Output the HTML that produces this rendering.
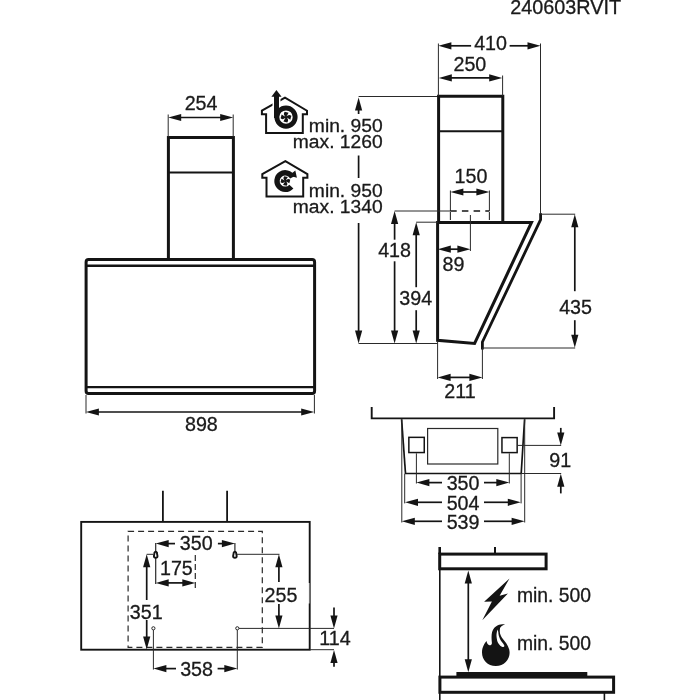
<!DOCTYPE html>
<html><head><meta charset="utf-8"><title>240603RVIT</title>
<style>
html,body{margin:0;padding:0;background:#fff;}
body{width:700px;height:700px;overflow:hidden;}
svg{display:block;will-change:transform;}
text{font-family:"Liberation Sans",sans-serif;fill:#1a1a1a;stroke:#1a1a1a;stroke-width:0.3px;}
</style></head><body>
<svg width="700" height="700" viewBox="0 0 700 700">
<rect x="0" y="0" width="700" height="700" fill="#fff"/>
<text x="510.3" y="13.9" text-anchor="start" font-size="19.8" >240603RVIT</text>
<path d="M168.4,260 V137.6 H233.4 V260" fill="none" stroke="#141414" stroke-width="3.0"/>
<line x1="168.0" y1="172.5" x2="233.6" y2="172.5" stroke="#141414" stroke-width="2.0" />
<rect x="86.1" y="259.5" width="228.5" height="134.1" rx="2.5" fill="none" stroke="#141414" stroke-width="3.0"/>
<line x1="86.0" y1="265.7" x2="314.8" y2="265.7" stroke="#141414" stroke-width="2.4" />
<line x1="86.0" y1="387.1" x2="314.8" y2="387.1" stroke="#141414" stroke-width="2.4" />
<line x1="168.2" y1="114.5" x2="168.2" y2="137.0" stroke="#2a2a2a" stroke-width="1.0" />
<line x1="233.2" y1="114.5" x2="233.2" y2="137.0" stroke="#2a2a2a" stroke-width="1.0" />
<line x1="180.2" y1="117.5" x2="221.2" y2="117.5" stroke="#141414" stroke-width="1.7" />
<polygon points="168.2,117.5 181.2,113.9 181.2,121.1" fill="#141414"/>
<polygon points="233.2,117.5 220.2,121.1 220.2,113.9" fill="#141414"/>
<text x="201.1" y="110.4" text-anchor="middle" font-size="19.7" >254</text>
<line x1="86.0" y1="395.0" x2="86.0" y2="413.5" stroke="#2a2a2a" stroke-width="1.0" />
<line x1="314.4" y1="395.0" x2="314.4" y2="413.5" stroke="#2a2a2a" stroke-width="1.0" />
<line x1="97.9" y1="412.0" x2="302.2" y2="412.0" stroke="#141414" stroke-width="1.7" />
<polygon points="85.9,412.0 98.9,408.4 98.9,415.6" fill="#141414"/>
<polygon points="314.2,412.0 301.2,415.6 301.2,408.4" fill="#141414"/>
<text x="201.4" y="431.2" text-anchor="middle" font-size="19.7" >898</text>
<text x="382.7" y="132.0" text-anchor="end" font-size="19.25" >min. 950</text>
<text x="382.7" y="148.0" text-anchor="end" font-size="19.25" >max. 1260</text>
<text x="382.7" y="196.6" text-anchor="end" font-size="19.25" >min. 950</text>
<text x="382.7" y="213.3" text-anchor="end" font-size="19.25" >max. 1340</text>
<path d="M285.0,97.7 L261.9,110.7 V114.3 H266.1 V133.1 H302.8 V114.3 H307.0 V110.7 Z" fill="none" stroke="#141414" stroke-width="2.0" stroke-linejoin="miter"/>
<path d="M276.5,92 V117" stroke="#fff" stroke-width="8" fill="none"/>
<circle cx="286.0" cy="117.1" r="9.15" fill="#fff" stroke="#141414" stroke-width="4.9"/>
<path d="M276.5,96 V118" stroke="#141414" stroke-width="5" fill="none"/>
<polygon points="276.4,90 271.4,96.8 281.6,96.8" fill="#141414"/>
<path d="M286.00,117.10 Q282.47,114.47 284.75,111.74 L288.60,112.76 Q287.63,114.55 286.00,117.10 Z" fill="#141414"/>
<path d="M286.00,117.10 Q288.63,113.57 291.36,115.85 L290.34,119.70 Q288.55,118.73 286.00,117.10 Z" fill="#141414"/>
<path d="M286.00,117.10 Q289.53,119.73 287.25,122.46 L283.40,121.44 Q284.37,119.65 286.00,117.10 Z" fill="#141414"/>
<path d="M286.00,117.10 Q283.37,120.63 280.64,118.35 L281.66,114.50 Q283.45,115.47 286.00,117.10 Z" fill="#141414"/>
<circle cx="286.00" cy="117.10" r="1.2" fill="#141414"/>
<path d="M285.4,161.1 L262.3,174.1 V177.7 H266.5 V196.5 H303.2 V177.7 H307.4 V174.1 Z" fill="none" stroke="#141414" stroke-width="2.0" stroke-linejoin="miter"/>
<path d="M292.53,177.18 A8.25,8.25 0 1 0 291.38,186.57" fill="none" stroke="#141414" stroke-width="5.4"/>
<polygon points="295.3,170.4 296.9,177.8 289.0,175.4" fill="#141414"/>
<path d="M285.40,181.00 Q282.20,178.61 284.26,176.13 L287.77,177.06 Q286.89,178.69 285.40,181.00 Z" fill="#141414"/>
<path d="M285.40,181.00 Q287.79,177.80 290.27,179.86 L289.34,183.37 Q287.71,182.49 285.40,181.00 Z" fill="#141414"/>
<path d="M285.40,181.00 Q288.60,183.39 286.54,185.87 L283.03,184.94 Q283.91,183.31 285.40,181.00 Z" fill="#141414"/>
<path d="M285.40,181.00 Q283.01,184.20 280.53,182.14 L281.46,178.63 Q283.09,179.51 285.40,181.00 Z" fill="#141414"/>
<circle cx="285.40" cy="181.00" r="1.2" fill="#141414"/>
<line x1="358.6" y1="96.5" x2="438.0" y2="96.5" stroke="#2a2a2a" stroke-width="1.0" />
<line x1="358.6" y1="109.5" x2="358.6" y2="114.0" stroke="#141414" stroke-width="1.7" />
<line x1="358.6" y1="155.5" x2="358.6" y2="178.0" stroke="#141414" stroke-width="1.7" />
<line x1="358.6" y1="223.0" x2="358.6" y2="331.5" stroke="#141414" stroke-width="1.7" />
<polygon points="358.6,97.5 362.2,110.5 355.0,110.5" fill="#141414"/>
<polygon points="358.6,343.5 355.0,330.5 362.2,330.5" fill="#141414"/>
<path d="M438.6,222.7 V96.3 H502.8 V222.7" fill="none" stroke="#141414" stroke-width="3.0"/>
<line x1="438.1" y1="131.2" x2="502.7" y2="131.2" stroke="#141414" stroke-width="2.0" />
<path d="M437.6,222.4 H531.5 L474.6,343.4 L437.6,340.3 Z" fill="none" stroke="#141414" stroke-width="3.0" stroke-linejoin="miter"/>
<path d="M540.6,213.3 V219.6 L482.4,342.0 V349.5" fill="none" stroke="#141414" stroke-width="2.8"/>
<line x1="438.4" y1="43.5" x2="438.4" y2="96.0" stroke="#2a2a2a" stroke-width="1.0" />
<line x1="540.5" y1="43.5" x2="540.5" y2="214.0" stroke="#2a2a2a" stroke-width="1.0" />
<line x1="450.4" y1="45.8" x2="471.1" y2="45.8" stroke="#141414" stroke-width="1.7" />
<line x1="509.6" y1="45.8" x2="528.5" y2="45.8" stroke="#141414" stroke-width="1.7" />
<polygon points="438.4,45.8 451.4,42.2 451.4,49.4" fill="#141414"/>
<polygon points="540.5,45.8 527.5,49.4 527.5,42.2" fill="#141414"/>
<text x="490.6" y="49.7" text-anchor="middle" font-size="19.7" >410</text>
<line x1="502.6" y1="75.5" x2="502.6" y2="96.0" stroke="#2a2a2a" stroke-width="1.0" />
<line x1="450.8" y1="77.9" x2="490.2" y2="77.9" stroke="#141414" stroke-width="1.7" />
<polygon points="438.8,77.9 451.8,74.3 451.8,81.5" fill="#141414"/>
<polygon points="502.2,77.9 489.2,81.5 489.2,74.3" fill="#141414"/>
<text x="469.9" y="71.3" text-anchor="middle" font-size="19.7" >250</text>
<line x1="450.4" y1="190.5" x2="450.4" y2="211.0" stroke="#2a2a2a" stroke-width="1.0" />
<line x1="489.4" y1="190.5" x2="489.4" y2="211.0" stroke="#2a2a2a" stroke-width="1.0" />
<line x1="450.4" y1="212.0" x2="450.4" y2="221.0" stroke="#2a2a2a" stroke-width="1.1" stroke-dasharray="8,2"/>
<line x1="489.4" y1="212.0" x2="489.4" y2="221.0" stroke="#2a2a2a" stroke-width="1.1" stroke-dasharray="8,2"/>
<line x1="462.4" y1="192.0" x2="477.4" y2="192.0" stroke="#141414" stroke-width="1.7" />
<polygon points="450.4,192.0 463.4,188.4 463.4,195.6" fill="#141414"/>
<polygon points="489.4,192.0 476.4,195.6 476.4,188.4" fill="#141414"/>
<text x="471.0" y="182.5" text-anchor="middle" font-size="19.7" >150</text>
<line x1="394.6" y1="211.0" x2="450.0" y2="211.0" stroke="#2a2a2a" stroke-width="1.0" />
<line x1="450.2" y1="211.0" x2="489.4" y2="211.0" stroke="#141414" stroke-width="1.6" stroke-dasharray="6.5,5.2"/>
<line x1="394.6" y1="223.0" x2="394.6" y2="239.7" stroke="#141414" stroke-width="1.7" />
<line x1="394.6" y1="261.3" x2="394.6" y2="331.5" stroke="#141414" stroke-width="1.7" />
<polygon points="394.6,211.0 398.2,224.0 391.0,224.0" fill="#141414"/>
<polygon points="394.6,343.5 391.0,330.5 398.2,330.5" fill="#141414"/>
<text x="394.6" y="257.2" text-anchor="middle" font-size="19.7" >418</text>
<line x1="416.2" y1="222.2" x2="438.0" y2="222.2" stroke="#2a2a2a" stroke-width="1.0" />
<line x1="416.2" y1="234.2" x2="416.2" y2="287.2" stroke="#141414" stroke-width="1.7" />
<line x1="416.2" y1="310.2" x2="416.2" y2="331.5" stroke="#141414" stroke-width="1.7" />
<polygon points="416.2,222.2 419.8,235.2 412.6,235.2" fill="#141414"/>
<polygon points="416.2,343.5 412.6,330.5 419.8,330.5" fill="#141414"/>
<text x="415.7" y="305.0" text-anchor="middle" font-size="19.7" >394</text>
<line x1="358.6" y1="343.5" x2="437.5" y2="343.5" stroke="#2a2a2a" stroke-width="1.0" />
<line x1="470.4" y1="215.0" x2="470.4" y2="251.0" stroke="#2a2a2a" stroke-width="1.0" />
<line x1="449.8" y1="249.2" x2="458.4" y2="249.2" stroke="#141414" stroke-width="1.7" />
<polygon points="437.8,249.2 450.8,245.6 450.8,252.8" fill="#141414"/>
<polygon points="470.4,249.2 457.4,252.8 457.4,245.6" fill="#141414"/>
<text x="453.5" y="271.4" text-anchor="middle" font-size="19.7" >89</text>
<line x1="540.6" y1="214.2" x2="575.2" y2="214.2" stroke="#2a2a2a" stroke-width="1.0" />
<line x1="482.4" y1="348.0" x2="575.2" y2="348.0" stroke="#2a2a2a" stroke-width="1.0" />
<line x1="574.8" y1="226.2" x2="574.8" y2="291.2" stroke="#141414" stroke-width="1.7" />
<line x1="574.8" y1="320.2" x2="574.8" y2="335.8" stroke="#141414" stroke-width="1.7" />
<polygon points="574.8,214.2 578.4,227.2 571.2,227.2" fill="#141414"/>
<polygon points="574.8,347.8 571.2,334.8 578.4,334.8" fill="#141414"/>
<text x="575.6" y="313.8" text-anchor="middle" font-size="19.7" >435</text>
<line x1="437.6" y1="341.0" x2="437.6" y2="379.0" stroke="#2a2a2a" stroke-width="1.0" />
<line x1="482.4" y1="348.0" x2="482.4" y2="379.0" stroke="#2a2a2a" stroke-width="1.0" />
<line x1="449.6" y1="377.4" x2="470.4" y2="377.4" stroke="#141414" stroke-width="1.7" />
<polygon points="437.6,377.4 450.6,373.8 450.6,381.0" fill="#141414"/>
<polygon points="482.4,377.4 469.4,381.0 469.4,373.8" fill="#141414"/>
<text x="460.0" y="398.3" text-anchor="middle" font-size="19.7" >211</text>
<path d="M371.7,407 V418.4 H554.1 V407" fill="none" stroke="#141414" stroke-width="1.9"/>
<line x1="401.6" y1="419.3" x2="405.5" y2="473.5" stroke="#141414" stroke-width="1.7" />
<line x1="524.6" y1="419.3" x2="521.2" y2="473.5" stroke="#141414" stroke-width="1.7" />
<line x1="405.0" y1="473.5" x2="521.6" y2="473.5" stroke="#141414" stroke-width="1.6" />
<line x1="401.8" y1="419.3" x2="401.8" y2="522.5" stroke="#2a2a2a" stroke-width="1.0" />
<line x1="524.7" y1="419.3" x2="524.7" y2="522.5" stroke="#2a2a2a" stroke-width="1.0" />
<line x1="404.7" y1="473.5" x2="404.7" y2="503.4" stroke="#2a2a2a" stroke-width="1.0" />
<line x1="521.1" y1="473.5" x2="521.1" y2="503.4" stroke="#2a2a2a" stroke-width="1.0" />
<rect x="427.6" y="428.5" width="70.2" height="35.5" fill="none" stroke="#2a2a2a" stroke-width="1.2"/>
<rect x="408.85" y="437.35" width="15.4" height="15.2" fill="none" stroke="#141414" stroke-width="1.5"/>
<rect x="501.95" y="437.6" width="15.2" height="15.0" fill="none" stroke="#141414" stroke-width="1.5"/>
<line x1="416.4" y1="453.3" x2="416.4" y2="483.5" stroke="#2a2a2a" stroke-width="1.0" />
<line x1="509.3" y1="453.3" x2="509.3" y2="483.5" stroke="#2a2a2a" stroke-width="1.0" />
<line x1="428.4" y1="482.6" x2="442.0" y2="482.6" stroke="#141414" stroke-width="1.7" />
<line x1="484.0" y1="482.6" x2="497.3" y2="482.6" stroke="#141414" stroke-width="1.7" />
<polygon points="416.4,482.6 429.4,479.0 429.4,486.2" fill="#141414"/>
<polygon points="509.3,482.6 496.3,486.2 496.3,479.0" fill="#141414"/>
<text x="463.1" y="489.8" text-anchor="middle" font-size="19.7" >350</text>
<line x1="417.0" y1="502.3" x2="442.0" y2="502.3" stroke="#141414" stroke-width="1.7" />
<line x1="484.0" y1="502.3" x2="508.8" y2="502.3" stroke="#141414" stroke-width="1.7" />
<polygon points="405.0,502.3 418.0,498.7 418.0,505.9" fill="#141414"/>
<polygon points="520.8,502.3 507.8,505.9 507.8,498.7" fill="#141414"/>
<text x="463.1" y="509.8" text-anchor="middle" font-size="19.7" >504</text>
<line x1="413.8" y1="521.3" x2="442.0" y2="521.3" stroke="#141414" stroke-width="1.7" />
<line x1="484.0" y1="521.3" x2="512.6" y2="521.3" stroke="#141414" stroke-width="1.7" />
<polygon points="401.8,521.3 414.8,517.7 414.8,524.9" fill="#141414"/>
<polygon points="524.6,521.3 511.6,524.9 511.6,517.7" fill="#141414"/>
<text x="463.1" y="529.0" text-anchor="middle" font-size="19.7" >539</text>
<line x1="517.9" y1="445.4" x2="561.2" y2="445.4" stroke="#2a2a2a" stroke-width="1.0" />
<line x1="521.2" y1="473.5" x2="561.2" y2="473.5" stroke="#2a2a2a" stroke-width="1.0" />
<line x1="560.8" y1="427.9" x2="560.8" y2="433.6" stroke="#141414" stroke-width="1.7" />
<polygon points="560.8,445.6 557.2,432.6 564.4,432.6" fill="#141414"/>
<line x1="560.8" y1="485.8" x2="560.8" y2="493.4" stroke="#141414" stroke-width="1.7" />
<polygon points="560.8,473.8 564.4,486.8 557.2,486.8" fill="#141414"/>
<text x="560.3" y="466.7" text-anchor="middle" font-size="19.7" >91</text>
<rect x="81.2" y="521.9" width="228.5" height="127.8" fill="none" stroke="#141414" stroke-width="1.9"/>
<line x1="162.9" y1="490.7" x2="162.9" y2="521.6" stroke="#141414" stroke-width="1.8" />
<line x1="227.1" y1="490.7" x2="227.1" y2="521.6" stroke="#141414" stroke-width="1.8" />
<rect x="128.1" y="531.4" width="134.2" height="115.9" fill="none" stroke="#2a2a2a" stroke-width="1.2" stroke-dasharray="6,4"/>
<rect x="308.2" y="583" width="1.2" height="20.5" fill="#fff"/>
<line x1="155.7" y1="543.0" x2="155.7" y2="584.0" stroke="#2a2a2a" stroke-width="1.2" />
<line x1="234.9" y1="543.0" x2="234.9" y2="551.0" stroke="#2a2a2a" stroke-width="1.2" />
<path d="M154.5,553.0 a1.2,1.2 0 1 1 2.4,0 l0.6,3.0 a1.8,1.8 0 1 1 -3.6,0 z" fill="#fff" stroke="#141414" stroke-width="1.9"/>
<path d="M233.7,553.0 a1.2,1.2 0 1 1 2.4,0 l0.6,3.0 a1.8,1.8 0 1 1 -3.6,0 z" fill="#fff" stroke="#141414" stroke-width="1.9"/>
<circle cx="153.4" cy="628.3" r="1.6" fill="#fff" stroke="#141414" stroke-width="0.9"/>
<circle cx="237.3" cy="628.3" r="1.6" fill="#fff" stroke="#141414" stroke-width="0.9"/>
<line x1="167.7" y1="543.6" x2="175.0" y2="543.6" stroke="#141414" stroke-width="1.7" />
<line x1="217.9" y1="543.6" x2="222.9" y2="543.6" stroke="#141414" stroke-width="1.7" />
<polygon points="155.7,543.6 168.7,540.0 168.7,547.2" fill="#141414"/>
<polygon points="234.9,543.6 221.9,547.2 221.9,540.0" fill="#141414"/>
<text x="196.3" y="550.3" text-anchor="middle" font-size="19.7" >350</text>
<line x1="195.3" y1="555.0" x2="195.3" y2="588.0" stroke="#2a2a2a" stroke-width="1.2" stroke-dasharray="6,3"/>
<line x1="167.7" y1="582.9" x2="183.3" y2="582.9" stroke="#141414" stroke-width="1.7" />
<polygon points="155.7,582.9 168.7,579.3 168.7,586.5" fill="#141414"/>
<polygon points="195.3,582.9 182.3,586.5 182.3,579.3" fill="#141414"/>
<text x="176.4" y="574.6" text-anchor="middle" font-size="19.7" >175</text>
<line x1="146.7" y1="554.3" x2="153.5" y2="554.3" stroke="#2a2a2a" stroke-width="1.0" />
<line x1="146.7" y1="566.3" x2="146.7" y2="600.0" stroke="#141414" stroke-width="1.7" />
<line x1="146.7" y1="620.0" x2="146.7" y2="637.5" stroke="#141414" stroke-width="1.7" />
<polygon points="146.7,554.3 150.3,567.3 143.1,567.3" fill="#141414"/>
<polygon points="146.7,649.5 143.1,636.5 150.3,636.5" fill="#141414"/>
<text x="146.2" y="618.8" text-anchor="middle" font-size="19.7" >351</text>
<line x1="153.4" y1="630.0" x2="153.4" y2="669.6" stroke="#2a2a2a" stroke-width="1.0" />
<line x1="237.3" y1="630.0" x2="237.3" y2="669.6" stroke="#2a2a2a" stroke-width="1.0" />
<line x1="165.4" y1="668.6" x2="176.0" y2="668.6" stroke="#141414" stroke-width="1.7" />
<line x1="217.6" y1="668.6" x2="225.3" y2="668.6" stroke="#141414" stroke-width="1.7" />
<polygon points="153.4,668.6 166.4,665.0 166.4,672.2" fill="#141414"/>
<polygon points="237.3,668.6 224.3,672.2 224.3,665.0" fill="#141414"/>
<text x="196.6" y="676.0" text-anchor="middle" font-size="19.7" >358</text>
<line x1="237.0" y1="554.3" x2="279.5" y2="554.3" stroke="#2a2a2a" stroke-width="1.0" />
<line x1="239.0" y1="628.4" x2="334.0" y2="628.4" stroke="#2a2a2a" stroke-width="1.0" />
<line x1="278.9" y1="566.3" x2="278.9" y2="582.1" stroke="#141414" stroke-width="1.7" />
<line x1="278.9" y1="603.9" x2="278.9" y2="616.4" stroke="#141414" stroke-width="1.7" />
<polygon points="278.9,554.3 282.5,567.3 275.3,567.3" fill="#141414"/>
<polygon points="278.9,628.4 275.3,615.4 282.5,615.4" fill="#141414"/>
<text x="281.0" y="602.4" text-anchor="middle" font-size="19.7" >255</text>
<line x1="309.7" y1="649.7" x2="334.0" y2="649.7" stroke="#2a2a2a" stroke-width="1.0" />
<line x1="334.0" y1="607.5" x2="334.0" y2="616.4" stroke="#141414" stroke-width="1.7" />
<polygon points="334.0,628.4 330.4,615.4 337.6,615.4" fill="#141414"/>
<line x1="334.0" y1="661.9" x2="334.0" y2="666.8" stroke="#141414" stroke-width="1.7" />
<polygon points="334.0,649.9 337.6,662.9 330.4,662.9" fill="#141414"/>
<text x="335.0" y="645.3" text-anchor="middle" font-size="19.7" >114</text>
<line x1="439.7" y1="547.0" x2="439.7" y2="554.0" stroke="#141414" stroke-width="2.6" />
<line x1="439.8" y1="568.0" x2="439.8" y2="700.0" stroke="#141414" stroke-width="1.6" />
<rect x="439.7" y="554.1" width="106.4" height="14.7" fill="none" stroke="#141414" stroke-width="3.0"/>
<line x1="495.0" y1="547.0" x2="495.0" y2="554.0" stroke="#141414" stroke-width="2.0" />
<line x1="468.3" y1="582.6" x2="468.3" y2="660.2" stroke="#141414" stroke-width="1.7" />
<polygon points="468.3,570.6 471.9,583.6 464.7,583.6" fill="#141414"/>
<polygon points="468.3,672.2 464.7,659.2 471.9,659.2" fill="#141414"/>
<polygon points="509.5,578.6 484.1,601.7 491.9,601.4 482.3,620.3 507.9,593.6 499.6,595.8" fill="#141414"/>
<path d="M495.8,666 C487.5,666 482,660 482,652.5 C482,647.5 484.5,643.5 486.5,641.1 C487,643.5 488,645 489.5,645.3 C491,645.3 491.9,644.8 491.9,643 C491.5,639 491.3,635.5 492.1,632.1 C493,628.5 495.5,626.2 497.4,625.4 C500,624.4 502.5,624.2 505.1,624.3 C502,625.5 500.3,626.8 500,628.5 C499.6,630.5 499.8,632.5 500.2,634 C501,637 502.8,638.7 504.3,640.7 C507,644 509.6,648 509.6,652.5 C509.6,660 504,666 495.8,666 Z" fill="#141414"/>
<path d="M497.6,629.6 C496.6,632 496.3,635 496.6,637.3 C496.9,640 497.3,641.8 498.3,643.3 C499.5,645.2 501,646.6 502.6,646.9 C503.8,647 504.6,646.4 504.3,645.4 C503.2,643 501,641.5 500,639 C498.9,636.5 498.4,634.5 498.3,632.1 Z" fill="#fff"/>
<text x="516.9" y="602.0" text-anchor="start" font-size="19.35" >min. 500</text>
<text x="516.9" y="649.6" text-anchor="start" font-size="19.35" >min. 500</text>
<rect x="456.4" y="672" width="130.9" height="5.1" fill="#141414"/>
<rect x="439.9" y="677.1" width="173.7" height="15.2" fill="none" stroke="#141414" stroke-width="3.0"/>
<line x1="604.4" y1="692.3" x2="604.4" y2="700.0" stroke="#141414" stroke-width="1.6" />
</svg>
</body></html>
